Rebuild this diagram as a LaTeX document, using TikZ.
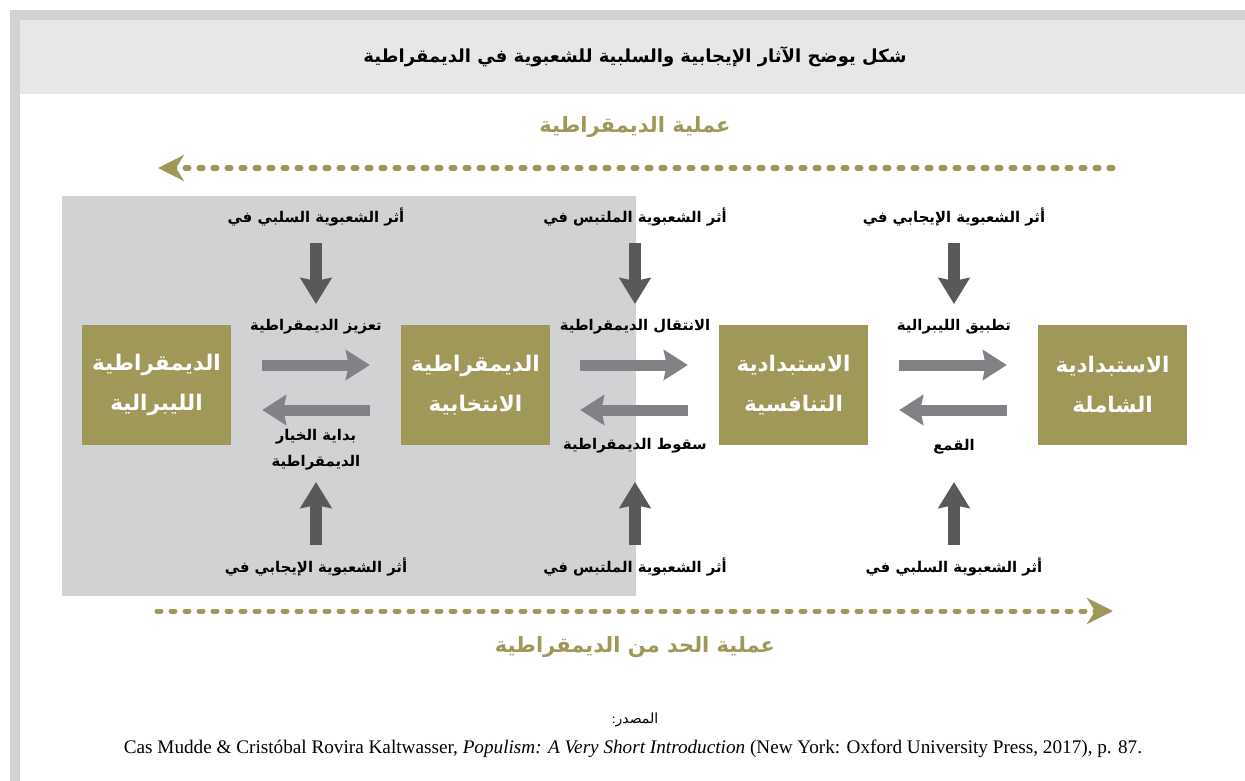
\documentclass[tikz,border=0pt]{standalone}
\usepackage{fontspec}
\setmainfont{Liberation Serif}
\newfontfamily\ar[Script=Arabic]{DejaVu Sans}
\usetikzlibrary{arrows.meta}
\TeXXeTstate=1
\definecolor{framegray}{HTML}{D1D2D4}
\definecolor{titleband}{HTML}{E6E7E8}
\definecolor{olive}{RGB}{160,152,89}
\definecolor{lightarrow}{HTML}{808285}
\definecolor{darkarrow}{HTML}{58595B}
\tikzset{
  box/.style={fill=olive, minimum width=149pt, minimum height=120pt, inner sep=0pt,
    text=white, align=center, font=\ar\bfseries\fontsize{21.5}{40}\selectfont},
  lbl/.style={align=center, inner sep=0pt, font=\ar\bfseries\fontsize{14.8}{26}\selectfont},
  olivelbl/.style={inner sep=0pt, text=olive, font=\ar\bfseries\fontsize{21}{24}\selectfont},
  harrow/.style={draw=lightarrow, line width=11pt, -{Stealth[length=24pt,width=30pt,inset=3pt]}},
  varrow/.style={draw=darkarrow, line width=12pt, -{Stealth[length=26pt,width=31pt,inset=3pt]}},
  dasharrow/.style={draw=olive, line width=5pt, dash pattern=on 4pt off 10pt, line cap=round,
    -{Stealth[length=26pt,width=26pt,inset=8pt]}}
}
\begin{document}
\begin{tikzpicture}[x=1pt,y=-1pt]
\useasboundingbox (0,0) rectangle (1245,781);
\fill[white] (0,0) rectangle (1245,781);
\fill[framegray] (10,10) rectangle (1245,781);
\fill[white] (20,20) rectangle (1245,781);
\fill[titleband] (20,20) rectangle (1245,94);
\fill[framegray] (62,196) rectangle (636,596);

% title
\node[inner sep=0pt, font=\ar\bfseries\fontsize{18}{20}\selectfont] (title) at (635,57) {\beginR شكل يوضح الآثار الإيجابية والسلبية للشعبوية في الديمقراطية\endR};

% process labels
\node[olivelbl] (proc1) at (635,127) {\beginR عملية الديمقراطية\endR};
\node[olivelbl] (proc2) at (635,647) {\beginR عملية الحد من الديمقراطية\endR};

\coordinate (dtR) at (1113,168);
\coordinate (dtL) at (158,168);
\coordinate (dbL) at (157,611);
\coordinate (dbR) at (1113,611);
\draw[dasharrow] (dtR) -- (dtL);
\draw[dasharrow] (dbL) -- (dbR);

% boxes
\node[box] (b1) at (156.5,385) {\beginR الديمقراطية\endR\\\beginR الليبرالية\endR};
\node[box] (b2) at (475.5,385) {\beginR الديمقراطية\endR\\\beginR الانتخابية\endR};
\node[box] (b3) at (793.5,385) {\beginR الاستبدادية\endR\\\beginR التنافسية\endR};
\node[box] (b4) at (1112.5,385) {\beginR الاستبدادية\endR\\\beginR الشاملة\endR};

% horizontal arrows
\draw[harrow] ([xshift=31pt,yshift=20pt]b1.east) -- ([xshift=-31pt,yshift=20pt]b2.west);
\draw[harrow] ([xshift=-31pt,yshift=-25pt]b2.west) -- ([xshift=31pt,yshift=-25pt]b1.east);
\draw[harrow] ([xshift=30pt,yshift=20pt]b2.east) -- ([xshift=-31pt,yshift=20pt]b3.west);
\draw[harrow] ([xshift=-31pt,yshift=-25pt]b3.west) -- ([xshift=30pt,yshift=-25pt]b2.east);
\draw[harrow] ([xshift=31pt,yshift=20pt]b3.east) -- ([xshift=-31pt,yshift=20pt]b4.west);
\draw[harrow] ([xshift=-31pt,yshift=-25pt]b4.west) -- ([xshift=31pt,yshift=-25pt]b3.east);

% arrow labels
\node[lbl] (u12) at (316,327) {\beginR تعزيز الديمقراطية\endR};
\node[lbl] (d12) at (316,450) {\beginR بداية الخيار\endR\\\beginR الديمقراطية\endR};
\node[lbl] (u23) at (635,327) {\beginR الانتقال الديمقراطية\endR};
\node[lbl] (d23) at (635,446) {\beginR سقوط الديمقراطية\endR};
\node[lbl] (u34) at (954,327) {\beginR تطبيق الليبرالية\endR};
\node[lbl] (d34) at (954,447) {\beginR القمع\endR};

% top influence labels and arrows
\node[lbl] (t1) at (316,217) {\beginR أثر الشعبوية السلبي في\endR};
\node[lbl] (t2) at (635,217) {\beginR أثر الشعبوية الملتبس في\endR};
\node[lbl] (t3) at (954,217) {\beginR أثر الشعبوية الإيجابي في\endR};
\coordinate (t1e) at (316,304);
\coordinate (t2e) at (635,304);
\coordinate (t3e) at (954,304);
\draw[varrow, shorten <=26pt] (t1.center) -- (t1e);
\draw[varrow, shorten <=26pt] (t2.center) -- (t2e);
\draw[varrow, shorten <=26pt] (t3.center) -- (t3e);

% bottom influence labels and arrows
\node[lbl] (s1) at (316,567) {\beginR أثر الشعبوية الإيجابي في\endR};
\node[lbl] (s2) at (635,567) {\beginR أثر الشعبوية الملتبس في\endR};
\node[lbl] (s3) at (954,567) {\beginR أثر الشعبوية السلبي في\endR};
\coordinate (s1e) at (316,482);
\coordinate (s2e) at (635,482);
\coordinate (s3e) at (954,482);
\draw[varrow, shorten <=22pt] (s1.center) -- (s1e);
\draw[varrow, shorten <=22pt] (s2.center) -- (s2e);
\draw[varrow, shorten <=22pt] (s3.center) -- (s3e);

% source
\node[inner sep=0pt, font=\fontsize{14}{16}\selectfont] (src) at (635,720) {{\rmfamily :}{\ar\beginR المصدر\endR}};
\node[inner sep=0pt, font=\fontsize{19.2}{22}\selectfont] (cite) at (633,749) {Cas Mudde \& Cristóbal Rovira Kaltwasser, \textit{Populism: A Very Short Introduction} (New York: Oxford University Press, 2017), p. 87.};
\end{tikzpicture}
\end{document}
